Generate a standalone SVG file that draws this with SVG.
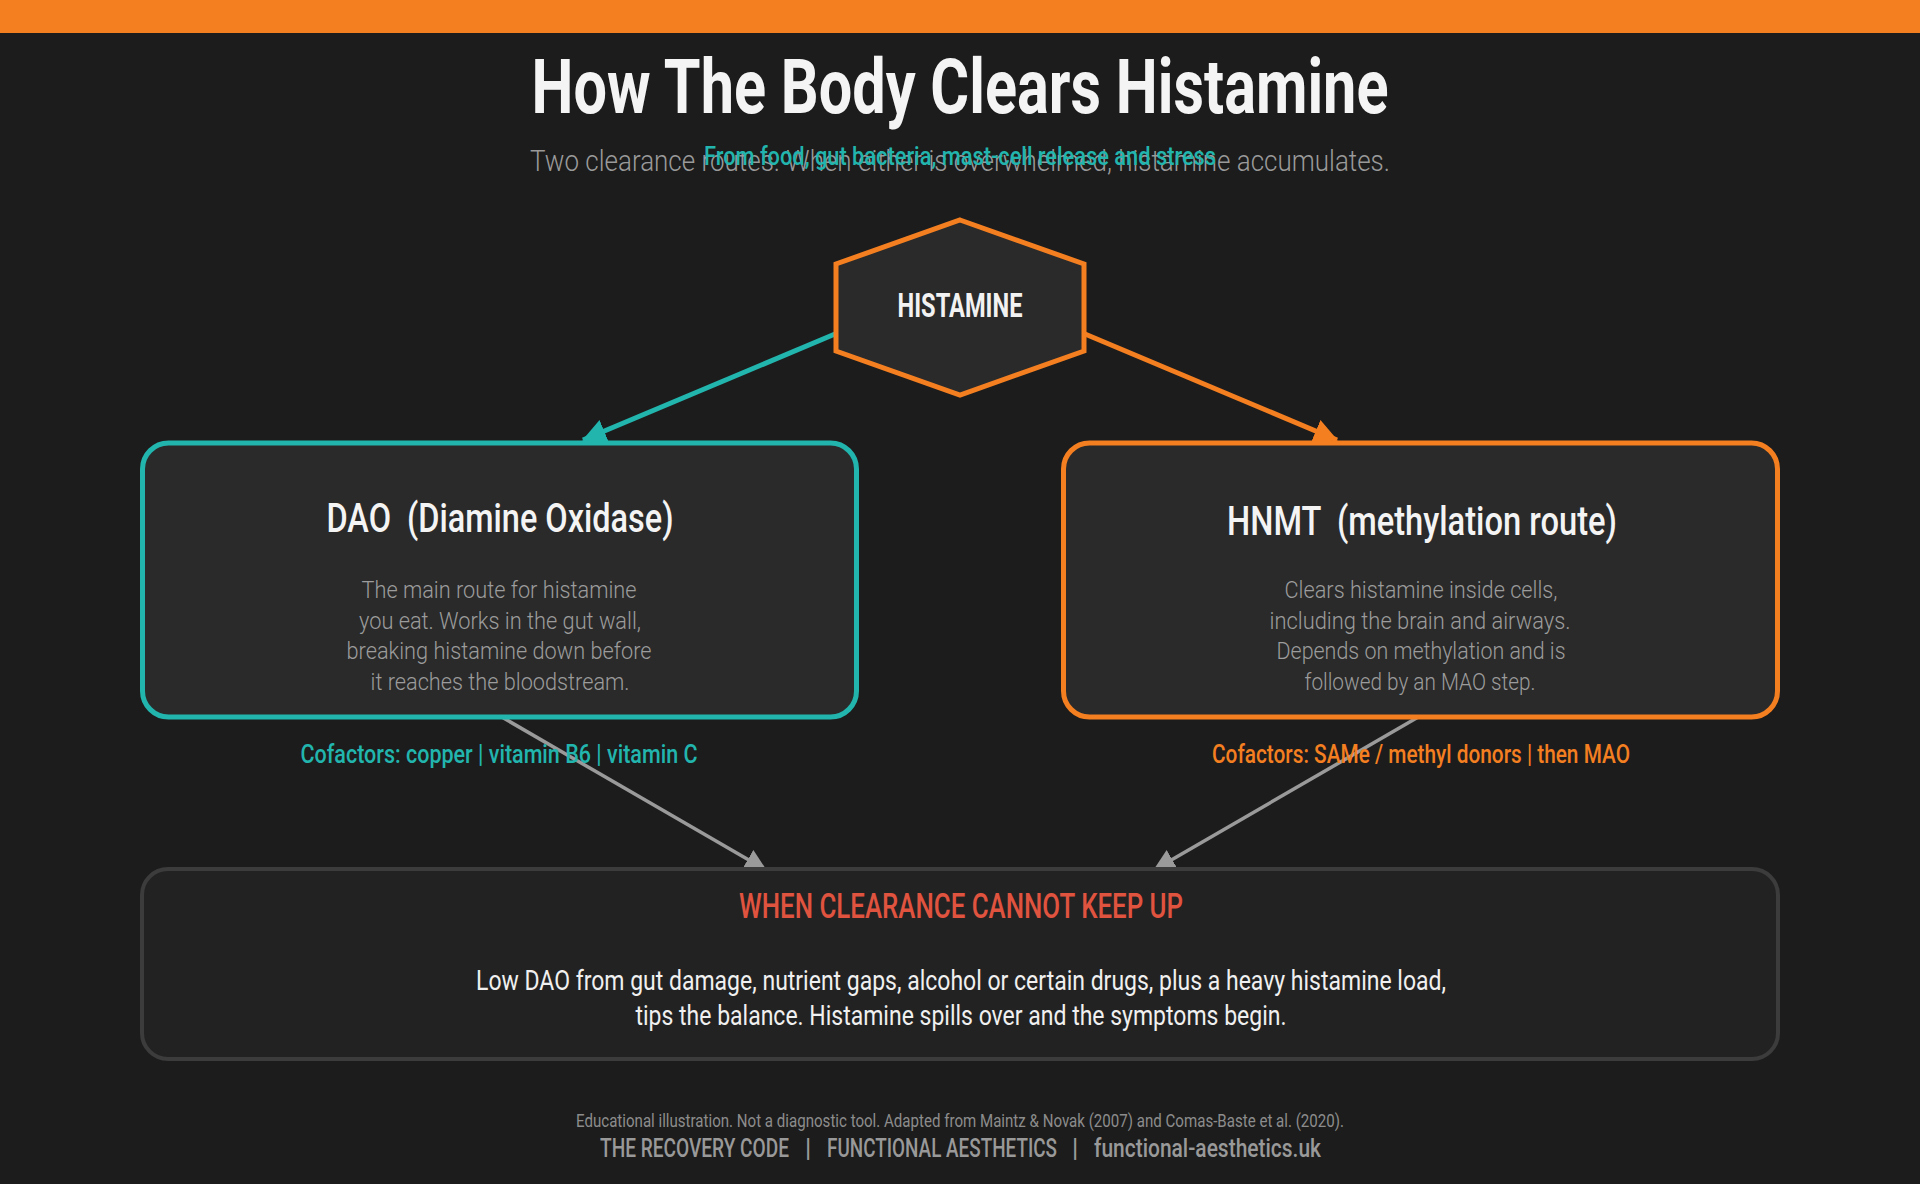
<svg xmlns="http://www.w3.org/2000/svg" width="1920" height="1184" viewBox="0 0 1920 1184">
<style>
  text { font-family: Roboto, "Liberation Sans", sans-serif; text-anchor: middle; }
  .title { font-size: 76px; font-weight: 700; fill: #f4f4f4; }
  .sub { font-size: 30px; font-weight: 300; fill: #9a9a9a; }
  .overlay { font-size: 25px; font-weight: 500; fill: #22b5ae; }
  .hex { font-size: 34px; font-weight: 700; fill: #f2f2f2; }
  .btitle { font-size: 40px; font-weight: 500; fill: #f4f4f4; }
  .body { font-size: 23.5px; font-weight: 300; fill: #9c9c9c; }
  .cofT { font-size: 25px; font-weight: 500; fill: #22b5ae; }
  .cofO { font-size: 25px; font-weight: 500; fill: #f47f21; }
  .warnH { font-size: 35px; font-weight: 500; fill: #e0533f; }
  .warnB { font-size: 28px; font-weight: 400; fill: #f0f0f0; }
  .foot1 { font-size: 18px; font-weight: 400; fill: #8c8c8c; }
  .foot2 { font-size: 25px; font-weight: 500; fill: #999999; }
  .card { fill: #2a2a2a; stroke-width: 5; }
</style>
<defs>
  <marker id="mTeal" markerUnits="userSpaceOnUse" markerWidth="26" markerHeight="26" refX="23" refY="12" orient="auto">
    <path d="M0,0 L24,12 L0,24 z" fill="#22b5ae"/>
  </marker>
  <marker id="mOrange" markerUnits="userSpaceOnUse" markerWidth="26" markerHeight="26" refX="23" refY="12" orient="auto">
    <path d="M0,0 L24,12 L0,24 z" fill="#f47f21"/>
  </marker>
  <marker id="mGray" markerUnits="userSpaceOnUse" markerWidth="24" markerHeight="24" refX="21" refY="11" orient="auto">
    <path d="M0,0 L22,11 L0,22 z" fill="#9a9a9a"/>
  </marker>
</defs>
<rect x="0" y="0" width="1920" height="1184" fill="#1c1c1c"/>
<rect x="0" y="0" width="1920" height="33" fill="#f47f21"/>

<g id="header">
  <text class="title" x="960" y="113" textLength="857" lengthAdjust="spacingAndGlyphs">How The Body Clears Histamine</text>
  <text class="sub" x="960" y="171" textLength="860" lengthAdjust="spacingAndGlyphs">Two clearance routes. When either is overwhelmed, histamine accumulates.</text>
  <text class="overlay" x="960" y="165" textLength="512" lengthAdjust="spacingAndGlyphs">From food, gut bacteria, mast-cell release and stress</text>
</g>

<g id="connectors">
  <line x1="835" y1="334" x2="583" y2="440" stroke="#22b5ae" stroke-width="5" marker-end="url(#mTeal)"/>
  <line x1="1085" y1="334" x2="1337" y2="440" stroke="#f47f21" stroke-width="5" marker-end="url(#mOrange)"/>
  <line x1="500" y1="716" x2="766" y2="870" stroke="#9a9a9a" stroke-width="3.5" marker-end="url(#mGray)"/>
  <line x1="1420" y1="716" x2="1154" y2="870" stroke="#9a9a9a" stroke-width="3.5" marker-end="url(#mGray)"/>
</g>

<g id="histamine">
  <polygon points="960,220 1084,264 1084,351 960,395 836,351 836,264" fill="#2a2a2a" stroke="#f47f21" stroke-width="5"/>
  <text class="hex" x="960" y="317" textLength="125" lengthAdjust="spacingAndGlyphs">HISTAMINE</text>
</g>

<g id="dao">
  <rect class="card" x="142.5" y="443" width="714" height="274" rx="26" stroke="#22b5ae"/>
  <text class="btitle" x="500" y="532" textLength="347" lengthAdjust="spacingAndGlyphs" xml:space="preserve">DAO  (Diamine Oxidase)</text>
  <text class="body" x="499" y="598" textLength="275" lengthAdjust="spacingAndGlyphs">The main route for histamine</text>
  <text class="body" x="500" y="629" textLength="282" lengthAdjust="spacingAndGlyphs">you eat. Works in the gut wall,</text>
  <text class="body" x="499" y="659" textLength="305" lengthAdjust="spacingAndGlyphs">breaking histamine down before</text>
  <text class="body" x="500" y="690" textLength="259" lengthAdjust="spacingAndGlyphs">it reaches the bloodstream.</text>
  <text class="cofT" x="499" y="763" textLength="397" lengthAdjust="spacingAndGlyphs">Cofactors: copper | vitamin B6 | vitamin C</text>
</g>

<g id="hnmt">
  <rect class="card" x="1063.5" y="443" width="714" height="274" rx="26" stroke="#f47f21"/>
  <text class="btitle" x="1422" y="535" textLength="390" lengthAdjust="spacingAndGlyphs" xml:space="preserve">HNMT  (methylation route)</text>
  <text class="body" x="1421" y="598" textLength="273" lengthAdjust="spacingAndGlyphs">Clears histamine inside cells,</text>
  <text class="body" x="1420" y="629" textLength="301" lengthAdjust="spacingAndGlyphs">including the brain and airways.</text>
  <text class="body" x="1421" y="659" textLength="289" lengthAdjust="spacingAndGlyphs">Depends on methylation and is</text>
  <text class="body" x="1420" y="690" textLength="231" lengthAdjust="spacingAndGlyphs">followed by an MAO step.</text>
  <text class="cofO" x="1421" y="763" textLength="418" lengthAdjust="spacingAndGlyphs">Cofactors: SAMe / methyl donors | then MAO</text>
</g>

<g id="warning">
  <rect x="142" y="869" width="1636" height="190" rx="26" fill="#222222" stroke="#3c3c3c" stroke-width="4"/>
  <text class="warnH" x="961" y="918" textLength="444" lengthAdjust="spacingAndGlyphs">WHEN CLEARANCE CANNOT KEEP UP</text>
  <text class="warnB" x="961" y="990" textLength="970" lengthAdjust="spacingAndGlyphs">Low DAO from gut damage, nutrient gaps, alcohol or certain drugs, plus a heavy histamine load,</text>
  <text class="warnB" x="961" y="1025" textLength="651" lengthAdjust="spacingAndGlyphs">tips the balance. Histamine spills over and the symptoms begin.</text>
</g>

<g id="footer">
  <text class="foot1" x="960" y="1127" textLength="768" lengthAdjust="spacingAndGlyphs">Educational illustration. Not a diagnostic tool. Adapted from Maintz &amp; Novak (2007) and Comas-Baste et al. (2020).</text>
  <text class="foot2" x="694.5" y="1157" textLength="189" lengthAdjust="spacingAndGlyphs">THE RECOVERY CODE</text>
  <text class="foot2" x="808" y="1157">|</text>
  <text class="foot2" x="942" y="1157" textLength="230" lengthAdjust="spacingAndGlyphs">FUNCTIONAL AESTHETICS</text>
  <text class="foot2" x="1075" y="1157">|</text>
  <text class="foot2" x="1207.5" y="1157" textLength="227" lengthAdjust="spacingAndGlyphs">functional-aesthetics.uk</text>
</g>
</svg>
